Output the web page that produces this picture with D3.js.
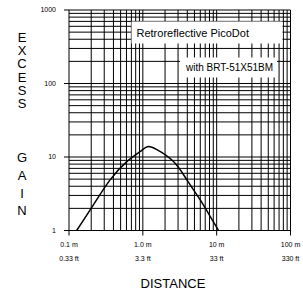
<!DOCTYPE html>
<html lang="en">
<head>
  <meta charset="UTF-8">
  <title>Excess Gain - Retroreflective PicoDot</title>
  <script src="https://d3js.org/d3.v7.min.js"></script>
  <style>
    body { margin: 0; background: #fff; }
    text { font-family: "Liberation Sans", Arial, sans-serif; fill: #000; }
    .grid line { stroke: #000; stroke-width: 1; }
    .tick-label { font-size: 7px; }
    .vtitle { font-size: 13px; writing-mode: vertical-rl; text-orientation: upright; }
  </style>
</head>
<body>
  <svg id="chart" width="303" height="293"></svg>
  <script>
    // curve (distance in m, excess gain)
    const distance = [0.127, 0.214, 0.36, 0.607, 0.918, 1.15, 1.55, 2.6, 3.95, 5.99, 8.19, 10.6];
    const gain = [1.0, 2.23, 4.89, 8.66, 11.8, 13.8, 12.6, 8.66, 4.89, 2.61, 1.55, 1.0];

    const xTicksM = ['0.1 m', '1.0 m', '10 m', '100 m'];
    const xTicksFt = ['0.33 ft', '3.3 ft', '33 ft', '330 ft'];
    const xTickValues = [0.1, 1, 10, 100];
    const yTickValues = [1, 10, 100, 1000];
    const yTitleWords = ['EXCESS', 'GAIN'];

    const svg = d3.select('#chart');
    const plotL = 69, plotR = 290.5, plotT = 10, plotB = 230.5;

    const x = d3.scaleLog().domain([0.1, 100]).range([plotL, plotR]);
    const y = d3.scaleLog().domain([1, 1000]).range([plotB, plotT]);

    // every 1..9 multiple per decade
    const minor = (lo, hi) => {
      const out = [];
      for (let p = lo; p < hi * 0.999; p *= 10) {
        for (let k = 1; k <= 9; k++) out.push(p * k);
      }
      out.push(hi);
      return out;
    };
    const isMajor = (d, list) => list.some(v => Math.abs(v - d) / v < 1e-6);

    const grid = svg.append('g').attr('class', 'grid');
    grid.selectAll('.v').data(minor(0.1, 100)).enter().append('line')
      .attr('x1', d => x(d)).attr('x2', d => x(d))
      .attr('y1', plotT)
      .attr('y2', d => isMajor(d, xTickValues) ? plotB + 5 : plotB);
    grid.selectAll('.h').data(minor(1, 1000)).enter().append('line')
      .attr('y1', d => y(d)).attr('y2', d => y(d))
      .attr('x1', d => isMajor(d, yTickValues) ? plotL - 5 : plotL)
      .attr('x2', plotR);

    // label boxes
    svg.append('rect').attr('x', 131.5).attr('y', 21.5).attr('width', 151).attr('height', 22).attr('fill', '#fff');
    svg.append('text').attr('x', 136.5).attr('y', 36.5).style('font-size', '11px').text('Retroreflective PicoDot');
    svg.append('rect').attr('x', 180).attr('y', 57.5).attr('width', 97).attr('height', 20).attr('fill', '#fff');
    svg.append('text').attr('x', 186).attr('y', 71).style('font-size', '10px').text('with BRT-51X51BM');

    // curve
    const pts = distance.map((d, i) => [x(d), y(gain[i])]);
    svg.append('path')
      .attr('d', d3.line().curve(d3.curveNatural)(pts))
      .attr('fill', 'none')
      .attr('stroke', '#000')
      .attr('stroke-width', 1.5);

    // y tick labels
    svg.selectAll('.ylab').data(yTickValues).enter().append('text')
      .attr('class', 'tick-label')
      .attr('x', 56).attr('y', d => y(d)).attr('dy', '0.35em')
      .attr('text-anchor', 'end')
      .text(d => d);

    // x tick labels, two rows
    svg.selectAll('.xlab').data(xTickValues).enter().append('text')
      .attr('class', 'tick-label')
      .attr('x', d => x(d)).attr('y', 247)
      .attr('text-anchor', 'middle')
      .text((d, i) => xTicksM[i]);
    svg.selectAll('.xlab2').data(xTickValues).enter().append('text')
      .attr('class', 'tick-label')
      .attr('x', d => x(d)).attr('y', 261)
      .attr('text-anchor', 'middle')
      .text((d, i) => xTicksFt[i]);

    svg.append('text').attr('x', 173).attr('y', 288)
      .attr('text-anchor', 'middle').style('font-size', '13px')
      .text('DISTANCE');

    // stacked vertical axis title, one word per text
    svg.selectAll('.ytitle').data(yTitleWords).enter().append('text')
      .attr('class', 'vtitle')
      .attr('x', 22)
      .attr('y', (d, i) => i === 0 ? 30 : 150)
      .style('letter-spacing', (d, i) => i === 0 ? '-1.8px' : '2.8px')
      .text(d => d);
  </script>
</body>
</html>
